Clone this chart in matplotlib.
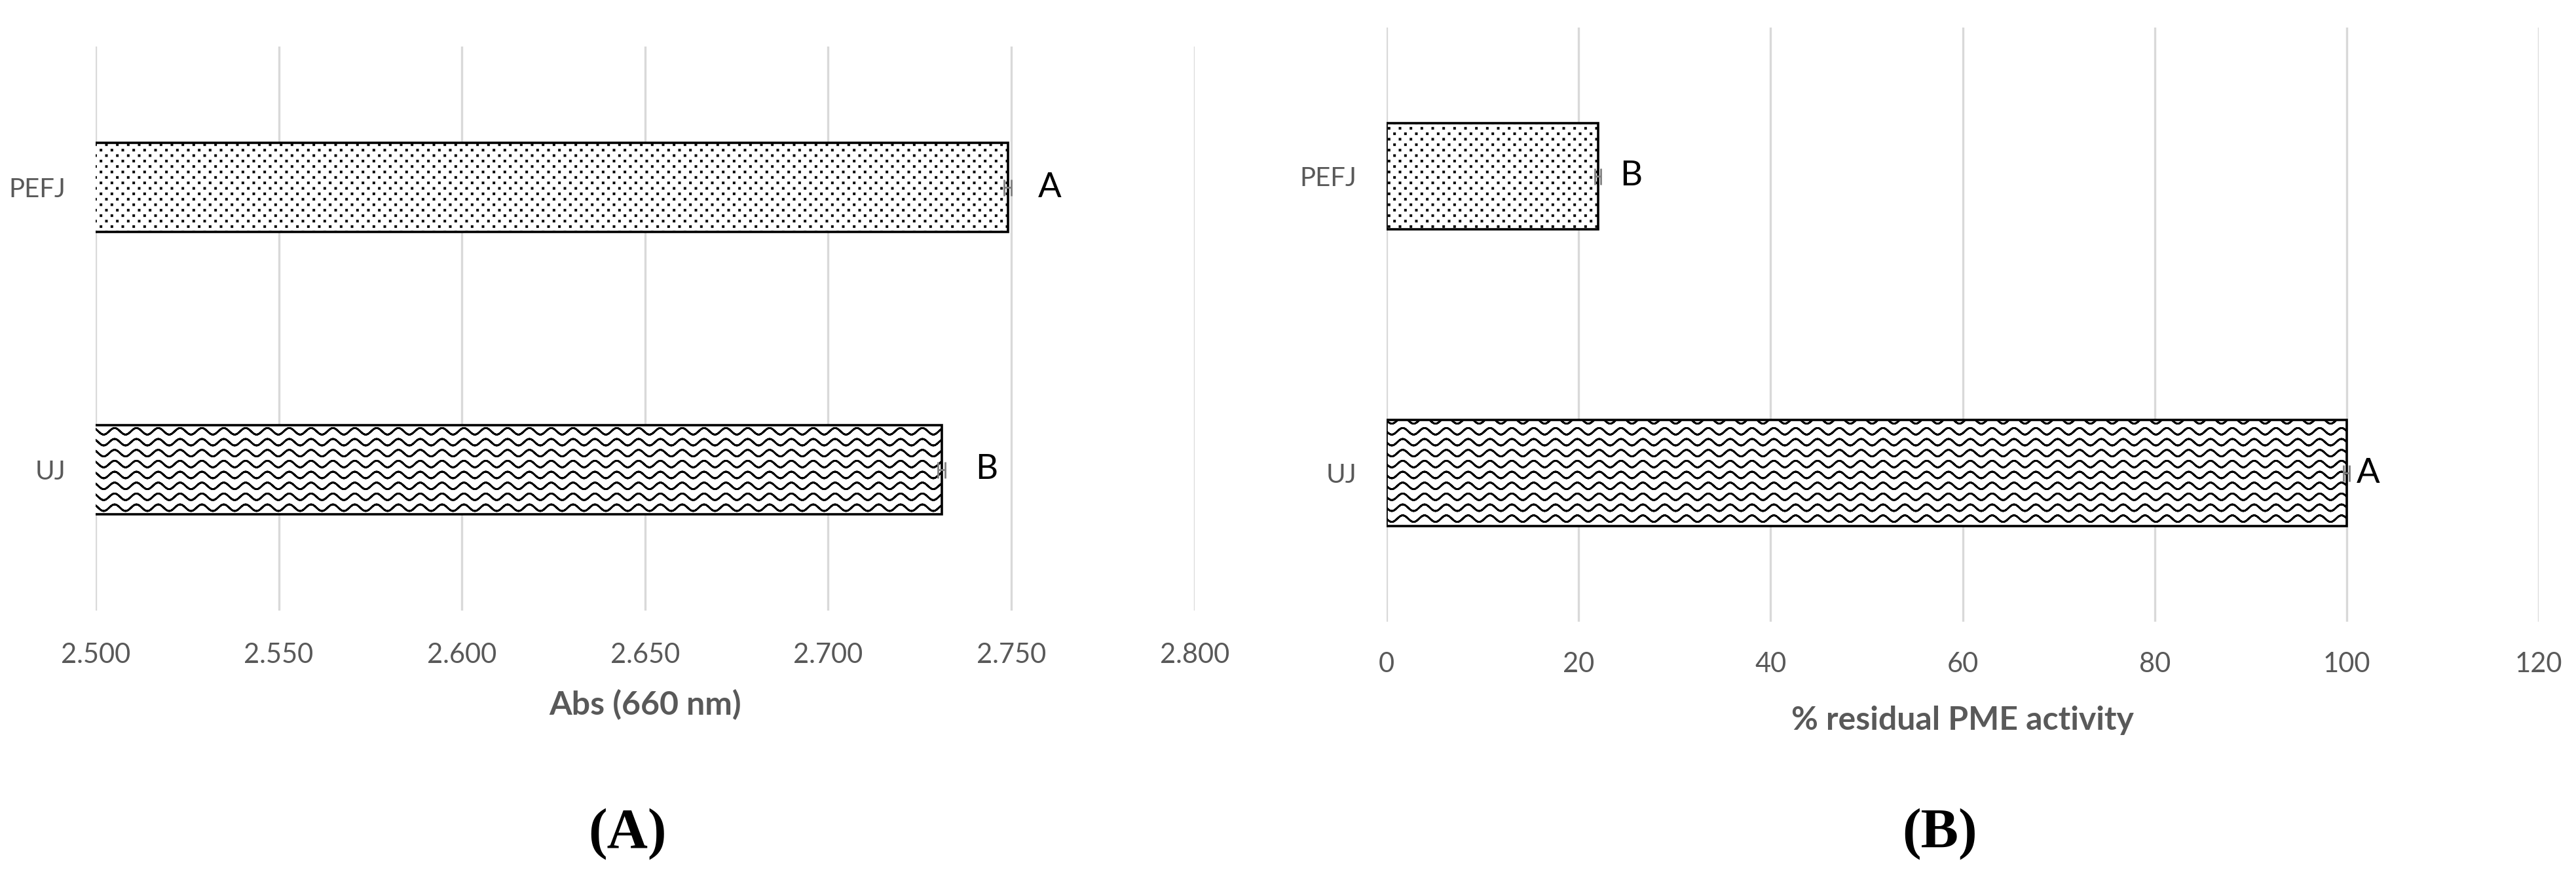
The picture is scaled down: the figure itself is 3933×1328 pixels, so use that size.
import warnings
import numpy as np
import matplotlib
matplotlib.use("Agg")
import matplotlib.pyplot as plt
import matplotlib.hatch as mhatch
from matplotlib.path import Path

warnings.filterwarnings("ignore")

# ---------------- data ----------------
categories = ["UJ", "PEFJ"]
abs_values = [2.731, 2.749]
abs_errors = [0.001, 0.001]
abs_letters = ["B", "A"]
pme_values = [100.0, 22.0]
pme_errors = [0.3, 0.3]
pme_letters = ["A", "B"]
abs_ticks = [2.500, 2.550, 2.600, 2.650, 2.700, 2.750, 2.800]
pme_ticks = [0, 20, 40, 60, 80, 100, 120]
abs_title = "Abs (660 nm)"
pme_title = "% residual PME activity"
panel_labels = ["(A)", "(B)"]


# ---------------- custom hatches ----------------
class WaveHatch(mhatch.HatchPatternBase):
    rows = 6
    periods = 3
    npts = 61

    def __init__(self, hatch, density):
        self.num_vertices = self.rows * (2 * self.npts - 1) if '~' in hatch else 0

    def set_vertices_and_codes(self, vertices, codes):
        x = np.linspace(0, 1, self.npts)
        xx = np.concatenate([x, x[-2::-1]])
        m = len(xx)
        k = 0
        for r in range(self.rows):
            y0 = (r + 0.5) / self.rows
            yy = y0 + 0.05 * np.sin(2 * np.pi * self.periods * xx)
            vertices[k:k + m, 0] = xx
            vertices[k:k + m, 1] = yy
            codes[k] = Path.MOVETO
            codes[k + 1:k + m] = Path.LINETO
            k += m


class DotHatch(mhatch.HatchPatternBase):
    rows = 12
    cols = 6
    half = 0.006

    def __init__(self, hatch, density):
        self.num_vertices = self.rows * self.cols * 5 if ':' in hatch else 0

    def set_vertices_and_codes(self, vertices, codes):
        k = 0
        h = self.half
        for r in range(self.rows):
            y = (r + 0.5) / self.rows
            for c in range(self.cols):
                x = (c + 0.25 + 0.5 * (r % 2)) / self.cols
                vertices[k:k + 5] = [[x - h, y - h], [x + h, y - h],
                                     [x + h, y + h], [x - h, y + h],
                                     [x - h, y - h]]
                codes[k] = Path.MOVETO
                codes[k + 1:k + 4] = Path.LINETO
                codes[k + 4] = Path.CLOSEPOLY
                k += 5


mhatch._hatch_types.append(WaveHatch)
mhatch._hatch_types.append(DotHatch)

hatches = ["~", ":"]

plt.rcParams['hatch.linewidth'] = 2.0
plt.rcParams['hatch.color'] = 'black'

FONT = ["Lato", "DejaVu Sans"]
GRAY = "#595959"

fig = plt.figure(figsize=(39.33, 13.28), dpi=100)
ax1 = fig.add_axes([0.0371, 0.2982, 0.4266, 0.6483])
ax2 = fig.add_axes([0.5383, 0.2854, 0.4472, 0.6830])


def draw_panel(ax, values, errors, letters, ticks, fmt, title, bar_h,
               offsets, xlim, labelpad, tickpad):
    pos = np.arange(len(categories))
    ax.set_axisbelow(True)
    ax.grid(axis='x', color='#d9d9d9', linewidth=2.4)
    ax.grid(axis='y', visible=False)
    for i, (v, hch) in enumerate(zip(values, hatches)):
        ax.barh(pos[i], v, height=bar_h, left=0, color='white',
                edgecolor='black', linewidth=2.6, hatch=hch, zorder=2)
    ax.errorbar(values, pos, xerr=errors, fmt='none', ecolor='#7f7f7f',
                elinewidth=2.0, capsize=9, capthick=2.0, zorder=3)
    for i, (v, e, L) in enumerate(zip(values, errors, letters)):
        ax.annotate(L, xy=(v + e, pos[i]), xytext=(offsets[i], 0),
                    textcoords='offset points', ha='left', va='center',
                    fontsize=38, color='black', family=FONT)
    ax.set_xlim(*xlim)
    ax.set_ylim(-0.5, 1.5)
    ax.set_xticks(ticks)
    ax.set_xticklabels([fmt.format(t) for t in ticks], family=FONT,
                       fontsize=30, color=GRAY)
    ax.set_yticks(pos)
    ax.set_yticklabels(categories, family=FONT, fontsize=29, color=GRAY)
    ax.tick_params(axis='y', length=0, pad=33)
    ax.tick_params(axis='x', length=0, pad=tickpad)
    for s in ax.spines.values():
        s.set_visible(False)
    ax.set_xlabel(title, family=FONT, fontsize=36, fontweight='bold',
                  color=GRAY, labelpad=labelpad)


draw_panel(ax1, abs_values, abs_errors, abs_letters, abs_ticks, "{:.3f}",
           abs_title, 0.316, [33, 29], (abs_ticks[0], abs_ticks[-1]), 24, 35)
draw_panel(ax2, pme_values, pme_errors, pme_letters, pme_ticks, "{:d}",
           pme_title, 0.357, [8, 21], (pme_ticks[0], pme_ticks[-1]), 32, 33)

for lbl, xc in zip(panel_labels, [0.2436, 0.7531]):
    fig.text(xc, 0.0414, lbl, ha='center', va='center',
             family=["Liberation Serif", "DejaVu Serif"], fontsize=62,
             fontweight='bold', color='black')

fig.savefig("out.png", dpi=100, facecolor='white')
